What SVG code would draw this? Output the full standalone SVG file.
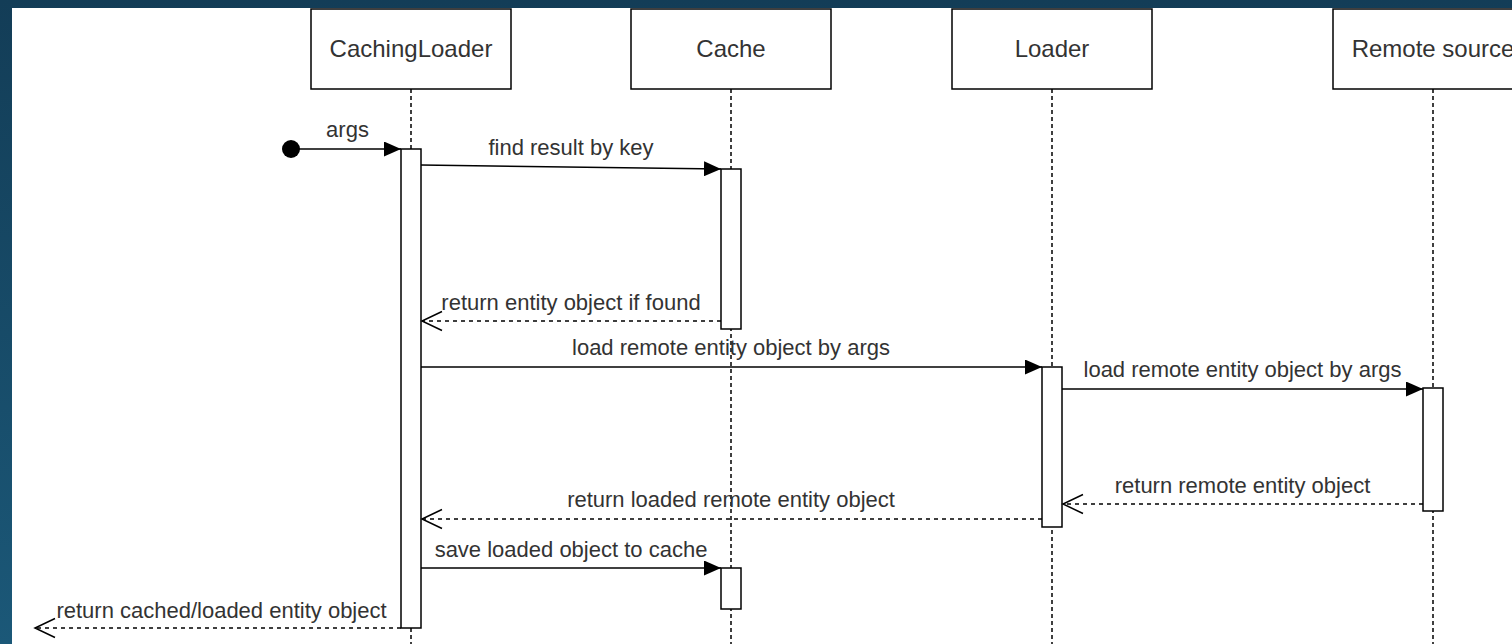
<svg xmlns="http://www.w3.org/2000/svg" width="1512" height="644" viewBox="0 0 1512 644">
<defs>
<linearGradient id="bg" x1="0" y1="0" x2="0" y2="1">
<stop offset="0" stop-color="#133d57"/>
<stop offset="1" stop-color="#1b5878"/>
</linearGradient>
<marker id="fill" viewBox="0 0 17 15" refX="17" refY="7.5" markerWidth="17" markerHeight="15" markerUnits="userSpaceOnUse" orient="auto">
<path d="M0,0 L17,7.5 L0,15 z" fill="#000"/>
</marker>
<marker id="open" viewBox="-2 -2 24 23" refX="20" refY="9.5" markerWidth="24" markerHeight="23" markerUnits="userSpaceOnUse" orient="auto">
<path d="M0,0 L20,9.5 L0,19" fill="none" stroke="#000" stroke-width="1.5"/>
</marker>
</defs>
<style>
.box{fill:#fff;stroke:#000;stroke-width:1.5}
.life{stroke:#000;stroke-width:1.5;stroke-dasharray:4 3;fill:none}
.act{fill:#fff;stroke:#000;stroke-width:1.5}
.msg{stroke:#000;stroke-width:1.5;fill:none;marker-end:url(#fill)}
.ret{stroke:#000;stroke-width:1.5;fill:none;stroke-dasharray:4 4;marker-end:url(#open)}
.t{font-family:"Liberation Sans",Arial,sans-serif;font-size:24px;fill:#333;text-anchor:middle}
.l{font-family:"Liberation Sans",Arial,sans-serif;font-size:22px;fill:#333;text-anchor:middle}
</style>
<rect x="0" y="0" width="1512" height="644" fill="url(#bg)"/>
<rect x="12" y="8" width="1500" height="636" fill="#fff"/>

<g id="cachingloader">
<line class="life" x1="411" y1="89" x2="411" y2="644"/>
<rect class="box" x="311" y="9" width="200" height="80"/>
<text class="t" x="411" y="57">CachingLoader</text>
</g>
<g id="cache">
<line class="life" x1="731" y1="89" x2="731" y2="644"/>
<rect class="box" x="631" y="9" width="200" height="80"/>
<text class="t" x="731" y="57">Cache</text>
</g>
<g id="loader">
<line class="life" x1="1052" y1="89" x2="1052" y2="644"/>
<rect class="box" x="952" y="9" width="200" height="80"/>
<text class="t" x="1052" y="57">Loader</text>
</g>
<g id="remote">
<line class="life" x1="1433" y1="89" x2="1433" y2="644"/>
<rect class="box" x="1333" y="9" width="200" height="80"/>
<text class="t" x="1433" y="57">Remote source</text>
</g>

<g id="activations">
<rect class="act" x="401" y="149" width="20" height="479"/>
<rect class="act" x="721" y="169" width="20" height="160"/>
<rect class="act" x="721" y="568" width="20" height="41"/>
<rect class="act" x="1042" y="367" width="20" height="160"/>
<rect class="act" x="1423" y="388" width="20" height="123"/>
</g>

<g id="connectors">
<circle cx="291" cy="149" r="9" fill="#000"/>
<line class="msg" x1="291" y1="149" x2="401" y2="149"/>
<text class="l" x="347.5" y="137">args</text>

<line class="msg" x1="421" y1="165" x2="721" y2="169"/>
<text class="l" x="571" y="155">find result by key</text>

<line class="ret" x1="721" y1="321" x2="422" y2="321"/>
<text class="l" x="571" y="310">return entity object if found</text>

<line class="msg" x1="421" y1="367" x2="1042" y2="367"/>
<text class="l" x="731" y="355">load remote entity object by args</text>

<line class="msg" x1="1062" y1="389" x2="1423" y2="389"/>
<text class="l" x="1242.5" y="377">load remote entity object by args</text>

<line class="ret" x1="1423" y1="504" x2="1063" y2="504"/>
<text class="l" x="1242.5" y="493">return remote entity object</text>

<line class="ret" x1="1042" y1="519" x2="422" y2="519"/>
<text class="l" x="731" y="507">return loaded remote entity object</text>

<line class="msg" x1="421" y1="568" x2="721" y2="568"/>
<text class="l" x="571" y="557">save loaded object to cache</text>

<line class="ret" x1="401" y1="628" x2="35" y2="628"/>
<text class="l" x="221.5" y="618">return cached/loaded entity object</text>
</g>
</svg>
